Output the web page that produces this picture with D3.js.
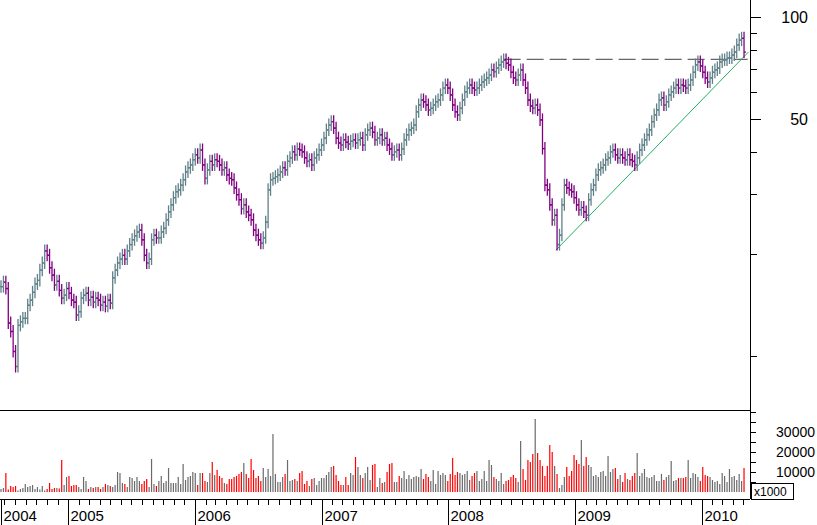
<!DOCTYPE html>
<html><head><meta charset="utf-8">
<script src="https://cdn.jsdelivr.net/npm/d3@7"></script>
<style>body{margin:0;background:#fff}svg{display:block;font-family:"Liberation Sans",Arial,sans-serif}</style>
</head><body>
<svg width="817" height="525"></svg>
<script>
// weekly closes, from week of 2004-06-21
const closes = [
16.0,16.5,15.8,12.5,11.8, 10.3,9.3,12.3,12.6,12.9, 12.9,14.1,14.6,15.4,16.3, 16.7,17.9,18.8,20.4,19.8,
18.2,17.3,16.2,16.6,15.6, 14.8,15.1,15.8,15.3,14.6, 14.4,13.2,13.5,14.8,15.1, 15.3,14.6,14.9,14.4,14.8,
14.6,14.1,14.4,14.0,14.6, 14.3,17.0,17.9,18.8,19.3, 19.8,19.3,20.4,21.3,22.0, 22.6,23.2,23.5,22.0,19.8,
18.8,19.3,22.0,22.7,22.3, 22.3,23.2,23.8,25.2,26.6, 27.9,29.3,30.5,30.9,31.9, 33.1,34.9,35.9,36.6,37.9,
39.2,38.4,40.5,36.6,33.4, 35.4,37.5,36.6,37.9,37.5, 36.6,35.4,35.9,34.2,33.4, 33.1,31.3,29.9,28.9,27.2,
27.9,26.6,26.0,25.2,23.5, 22.7,22.0,21.5,22.3,24.8, 30.9,33.1,33.4,33.8,34.2, 34.9,35.9,35.4,37.5,38.4,
40.0,39.2,40.8,40.5,40.0, 38.4,37.5,37.9,36.6,38.4, 39.2,40.5,41.9,43.9,46.4, 48.0,49.1,47.0,43.9,42.5,
41.9,43.4,42.7,42.2,43.0, 43.4,42.5,43.4,43.9,41.9, 44.9,46.4,47.0,45.7,43.4, 43.9,44.9,43.4,43.9,41.9,
40.8,39.2,40.0,40.5,39.2, 40.8,43.4,44.9,46.4,47.0, 48.0,52.5,55.0,56.9,56.2, 55.0,53.2,53.8,55.0,56.2,
56.9,58.9,61.7,63.0,61.7, 58.9,55.0,52.5,51.4,53.8, 56.9,60.1,61.7,63.0,61.7, 60.9,61.7,63.0,64.3,65.2,
66.1,67.4,69.8,69.0,70.7, 72.2,73.7,74.7,73.0,72.2, 68.7,66.1,65.2,67.4,69.8, 65.2,61.7,56.9,54.6,53.8,
55.0,53.2,49.7,40.9,31.9, 30.9,27.9,25.2,26.0,21.3, 22.7,27.9,31.9,31.3,30.9, 30.5,29.3,27.9,27.0,27.4,
26.6,26.0,28.9,30.9,31.9, 34.2,35.4,35.9,36.6,37.9, 38.4,40.0,40.5,39.2,38.4, 39.2,38.4,37.9,39.2,37.9,
37.5,36.6,38.4,40.5,41.9, 43.4,44.9,46.4,49.1,51.4, 53.2,56.9,57.7,55.0,56.2, 58.9,60.1,61.7,63.0,61.7,
63.0,62.6,61.7,63.0,65.2, 68.7,72.2,73.7,71.7,68.7, 66.1,64.3,66.1,68.7,69.8, 70.7,73.7,74.7,74.7,75.7,
75.7,77.2,78.8,82.7,85.5, 86.5,78.8
];
// weekly volume, thousands
const volumes = [
1500,2000,9500,1200,3000,2500,3000,800,1500,2000,
4000,2500,3000,3500,1500,2500,1200,3000,800,1500,
4500,1500,2000,2000,1800,16000,3500,7500,8000,3000,
3500,3500,2500,1500,7500,5500,1500,2500,2000,2500,
2500,1500,2500,4000,3500,3000,2500,3500,10000,9500,
4500,4000,2500,7500,7000,5500,7500,5500,4000,5500,
6500,2500,16500,4000,3000,5500,8000,4500,5500,12000,
4500,4500,4500,7500,4000,14000,6000,7500,8000,10000,
9500,3500,9500,9500,5500,5000,9500,15000,8500,11000,
8000,7000,4500,4000,6500,6500,7500,8000,9000,10000,
14500,9000,7000,16500,11000,7000,8000,5500,12000,7500,
11500,8000,29000,9000,5000,5000,7500,9000,16000,5500,
6000,6500,5500,9500,10500,4000,5500,3000,6500,7000,
3500,5500,7000,7000,8500,10000,12500,13000,8500,5500,
3500,3500,7500,3500,9500,8500,17500,12500,8500,7000,
9500,12500,6000,13500,14000,2500,7000,4500,5000,10000,
14000,14500,5000,5000,8000,7000,10500,6500,8500,6500,
7500,8000,7500,11500,6500,9000,7500,5500,11000,4000,
10500,8500,9500,8500,5500,9000,17000,8500,10000,9500,
8500,9000,10500,6000,8000,9500,10500,5500,6500,10500,
5500,16000,13500,7500,6500,5500,9500,4000,5500,6000,
7500,8500,7000,5000,25500,11500,6000,16000,15000,19000,
36500,19500,16000,13000,8000,13000,23500,20000,13000,9000,
2000,3500,7500,12500,8000,10500,18500,16000,14000,26000,
13000,17500,13500,12500,8000,8500,7500,10000,10500,8000,
18000,10000,11500,12000,6500,8500,5000,9500,6500,6000,
8000,9500,19500,8000,9500,11500,7500,7000,7500,8500,
5500,5500,9000,6000,7500,8500,15500,5500,6000,7000,
7000,7000,7500,16000,7000,9500,9000,7500,5500,12500,
8500,8000,7500,6000,5000,5500,4000,9500,8000,5000,
11500,7500,8000,6000,9000,5500,12000
];
const priceTicks = [10, 20, 30, 40, 50, 60, 70, 80, 90, 100];
const priceLabels = [50, 100];
const volTicks = [0, 5000, 10000, 15000, 20000, 25000, 30000, 35000, 40000];
const volLabels = [10000, 20000, 30000];
// trend lines: [week index, price]
const greenLine = [[228.5, 20.5], [307.8, 78.8]];
const resistance = [[207, 75.0], [307.5, 75.0]];

const svg = d3.select("svg");
const start = new Date(2004, 5, 21);
const day = 864e5;
const dateOf = i => new Date(start.getTime() + i * 7 * day);
const pxPerDay = 126.7 / 365.25;

const x = d3.scaleTime()
    .domain([start, dateOf(306)])
    .range([1, 1 + pxPerDay * 306 * 7]);
const xi = i => x(dateOf(i));
const y = d3.scaleLog().domain([100, 50]).range([17, 119]);
const yv = d3.scaleLinear().domain([0, 10000]).range([492, 472]);

const bars = closes.map((c, i) => {
    const o = i ? closes[i - 1] : c;
    return { i, o, c, h: Math.max(o, c) * 1.045, l: Math.min(o, c) * 0.96, up: c >= o, v: volumes[i] };
});

// panel frames
svg.append("line").attr("x1", 0).attr("x2", 750).attr("y1", 410.5).attr("y2", 410.5).attr("stroke", "#000");
svg.append("line").attr("x1", 750.5).attr("x2", 750.5).attr("y1", 0).attr("y2", 499).attr("stroke", "#000");
svg.append("line").attr("x1", 0).attr("x2", 750).attr("y1", 499.5).attr("y2", 499.5).attr("stroke", "#000");

// price axis
const pa = svg.append("g");
pa.selectAll("line").data(priceTicks).enter().append("line")
    .attr("x1", 751).attr("x2", d => priceLabels.includes(d) ? 761 : 757)
    .attr("y1", d => Math.round(y(d)) + 0.5).attr("y2", d => Math.round(y(d)) + 0.5)
    .attr("stroke", "#000");
pa.selectAll("text").data(priceLabels).enter().append("text")
    .attr("x", 808).attr("y", d => y(d) + 6).attr("text-anchor", "end")
    .attr("font-size", 16).text(d => d);

// volume axis
const va = svg.append("g");
va.selectAll("line").data(volTicks).enter().append("line")
    .attr("x1", 751).attr("x2", 756)
    .attr("y1", d => Math.round(yv(d)) + 0.5).attr("y2", d => Math.round(yv(d)) + 0.5)
    .attr("stroke", "#000");
va.selectAll("text").data(volLabels).enter().append("text")
    .attr("x", 815).attr("y", d => yv(d) + 5).attr("text-anchor", "end")
    .attr("font-size", 14).text(d => d);
svg.append("rect").attr("x", 751.5).attr("y", 483.5).attr("width", 42).attr("height", 16)
    .attr("fill", "#fff").attr("stroke", "#000");
svg.append("text").attr("x", 754).attr("y", 496).attr("font-size", 12).text("x1000");

// date axis
const months = x.ticks(d3.timeMonth.every(1)).filter(d => d.getMonth() !== 0);
svg.append("g").selectAll("line").data(months).enter().append("line")
    .attr("x1", d => Math.round(x(d)) + 0.5).attr("x2", d => Math.round(x(d)) + 0.5)
    .attr("y1", 500).attr("y2", 505).attr("stroke", "#000");
const years = [new Date(2004, 0, 1)].concat(x.ticks(d3.timeYear.every(1)));
const yg = svg.append("g").selectAll("g").data(years).enter().append("g")
    .attr("transform", d => `translate(${Math.max(1, Math.round(x(d))) + 0.5},0)`);
yg.append("line").attr("y1", 500).attr("y2", 525).attr("stroke", "#000");
yg.append("text").attr("x", 2).attr("y", 521).attr("font-size", 15).text(d => d.getFullYear());

// volume bars
svg.append("g").selectAll("line").data(bars).enter().append("line")
    .attr("x1", d => xi(d.i)).attr("x2", d => xi(d.i))
    .attr("y1", yv(0)).attr("y2", d => yv(d.v))
    .attr("stroke", d => d.up ? "#6a6a6a" : "#ff0000").attr("stroke-width", 1.2);

// trend lines
const line = d3.line().x(d => xi(d[0])).y(d => y(d[1]));
svg.append("path").attr("d", line(resistance)).attr("stroke", "#666").attr("fill", "none")
    .attr("stroke-width", 1.3).attr("stroke-dasharray", "17,6");
svg.append("path").attr("d", line(greenLine)).attr("stroke", "#22b060").attr("fill", "none");

// price bars
const pb = svg.append("g").selectAll("g").data(bars).enter().append("g")
    .attr("stroke", d => d.up ? "#5f8088" : "#800080").attr("stroke-width", 1.3);
pb.append("line").attr("x1", d => xi(d.i)).attr("x2", d => xi(d.i))
    .attr("y1", d => y(d.h)).attr("y2", d => y(d.l));
pb.append("line").attr("x1", d => xi(d.i) - 2).attr("x2", d => xi(d.i))
    .attr("y1", d => y(d.o)).attr("y2", d => y(d.o));
pb.append("line").attr("x1", d => xi(d.i)).attr("x2", d => xi(d.i) + 2)
    .attr("y1", d => y(d.c)).attr("y2", d => y(d.c));
</script>
</body></html>
